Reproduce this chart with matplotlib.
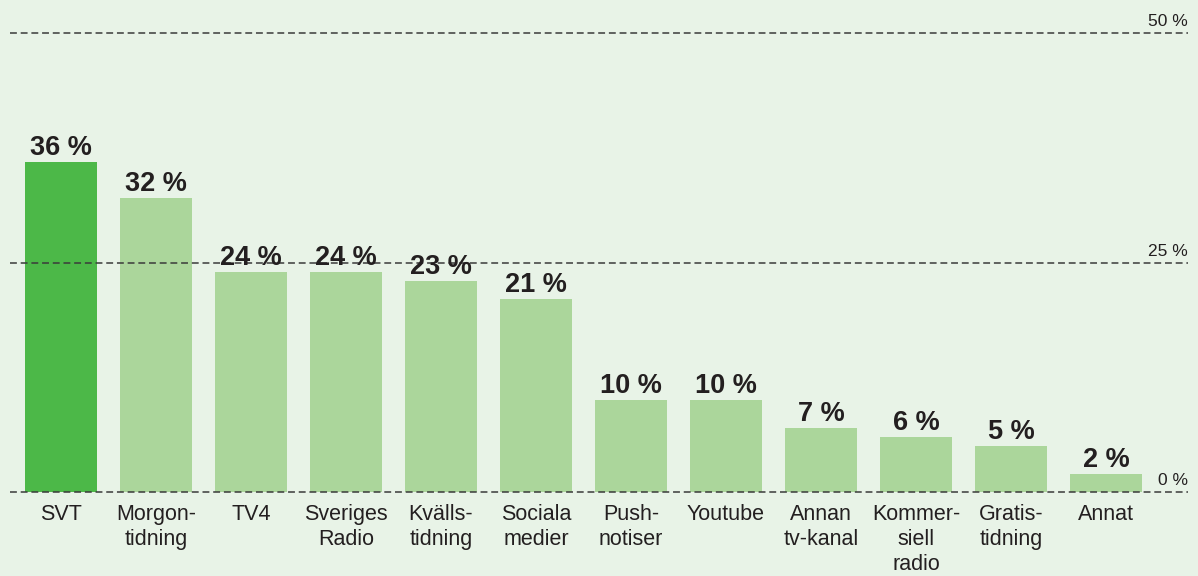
import matplotlib
matplotlib.use("Agg")
import matplotlib.pyplot as plt

categories = ["SVT", "Morgon-\ntidning", "TV4", "Sveriges\nRadio", "Kvälls-\ntidning",
              "Sociala\nmedier", "Push-\nnotiser", "Youtube", "Annan\ntv-kanal",
              "Kommer-\nsiell\nradio", "Gratis-\ntidning", "Annat"]
values = [36, 32, 24, 24, 23, 21, 10, 10, 7, 6, 5, 2]
gridvals = [0, 25, 50]
gridlabels = ["0 %", "25 %", "50 %"]

BG = "#e8f3e7"
DARK = "#4cb848"
LIGHT = "#abd69b"
TXT = "#231f20"

plt.rcParams['font.family'] = ['Liberation Sans', 'DejaVu Sans']

W, H = 1198, 576
fig = plt.figure(figsize=(W / 100, H / 100), dpi=100, facecolor=BG)
ax = fig.add_axes([0, 0, 1, 1], facecolor=BG)

# pixel-based scale mapping
x0_px, step_px = 61, 95.0
y0_px, px_per_pct = 492, 459 / 50
ax.set_xlim(-x0_px / step_px, (W - x0_px) / step_px)
ax.set_ylim(-(H - y0_px) / px_per_pct, y0_px / px_per_pct)
ax.axis("off")

for g in gridvals:
    ax.axhline(g, xmin=10 / W, xmax=1188 / W, color="#3a3a3a", lw=1.1,
               linestyle=(0, (4.5, 2.5)), zorder=3)

for g, lab in zip(gridvals, gridlabels):
    ax.annotate(lab, xy=(1188 / W, g), xycoords=("axes fraction", "data"),
                xytext=(0, 7), textcoords="offset pixels",
                ha="right", va="baseline", fontsize=12.5, color=TXT)

xs = list(range(len(categories)))
colors = [DARK] + [LIGHT] * (len(categories) - 1)
ax.bar(xs, values, width=72 / step_px, color=colors, zorder=2)

for x, v in zip(xs, values):
    ax.annotate(f"{v} %", xy=(x, v), xytext=(0, 7), textcoords="offset pixels",
                ha="center", va="baseline", fontsize=19.5, fontweight="bold", color=TXT)

for x, c in zip(xs, categories):
    ax.annotate(c, xy=(x, 0), xytext=(0, -12), textcoords="offset pixels",
                ha="center", va="top", fontsize=15.5, color=TXT, linespacing=1.25)

fig.savefig("out.png", dpi=100, facecolor=BG)
